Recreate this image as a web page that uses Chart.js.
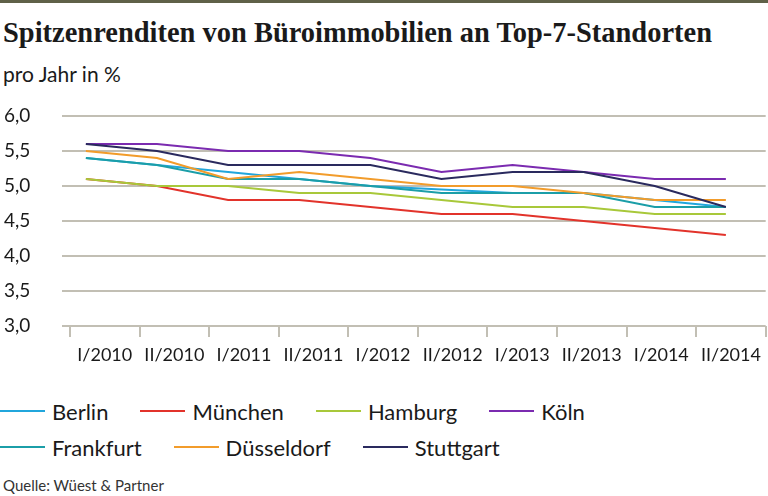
<!DOCTYPE html>
<html lang="de">
<head>
<meta charset="utf-8">
<title>Spitzenrenditen von Büroimmobilien an Top-7-Standorten</title>
<script src="https://cdn.jsdelivr.net/npm/chart.js@4"></script>
<style>
    html, body { margin: 0; padding: 0; background: #fff; }
    #page { position: relative; width: 768px; height: 496px; overflow: hidden; font-family: Lato, "Open Sans", sans-serif; color: #1a1a1a; }
    #topline { position: absolute; left: 0; top: 0; width: 768px; height: 3px; background: #5f6148; }
    #title { position: absolute; left: 3px; top: 15px; font-family: "Liberation Serif", serif; font-weight: bold; font-size: 30px; white-space: nowrap; transform-origin: left top; }
    #subtitle { position: absolute; left: 3px; top: 61px; font-size: 21px; }
    #chart-wrap { position: absolute; left: 0; top: 96px; width: 768px; height: 280px; }
    #legend { position: absolute; left: 0; top: 393px; font-size: 22px; }
    .legend-row { display: flex; height: 36px; align-items: center; }
    .legend-item { display: flex; align-items: center; margin-right: 32px; }
    .legend-line { display: inline-block; width: 45px; height: 2px; margin-right: 7px; }
    #source { position: absolute; left: 3px; top: 476px; font-size: 15px; color: #333; }
</style>
</head>
<body>
<div id="page">
    <div id="topline"></div>
    <div id="title">Spitzenrenditen von Büroimmobilien an Top-7-Standorten</div>
    <div id="subtitle">pro Jahr in %</div>
    <div id="chart-wrap"><canvas id="line-chart"></canvas></div>
    <div id="legend"></div>
    <div id="source">Quelle: Wüest &amp; Partner</div>
</div>
<script>
// Halbjahre
const categories = ['I/2010', 'II/2010', 'I/2011', 'II/2011', 'I/2012', 'II/2012', 'I/2013', 'II/2013', 'I/2014', 'II/2014'];

// Spitzenrenditen in %
const berlin      = [5.4, 5.3, 5.2, 5.1, 5.0, 4.95, 4.9, 4.9, 4.8, 4.7];
const muenchen    = [5.1, 5.0, 4.8, 4.8, 4.7, 4.6, 4.6, 4.5, 4.4, 4.3];
const hamburg     = [5.1, 5.0, 5.0, 4.9, 4.9, 4.8, 4.7, 4.7, 4.6, 4.6];
const koeln       = [5.6, 5.6, 5.5, 5.5, 5.4, 5.2, 5.3, 5.2, 5.1, 5.1];
const frankfurt   = [5.4, 5.3, 5.1, 5.1, 5.0, 4.9, 4.9, 4.9, 4.7, 4.7];
const duesseldorf = [5.5, 5.4, 5.1, 5.2, 5.1, 5.0, 5.0, 4.9, 4.8, 4.8];
const stuttgart   = [5.6, 5.5, 5.3, 5.3, 5.3, 5.1, 5.2, 5.2, 5.0, 4.7];

const cityNames = ['Berlin', 'München', 'Hamburg', 'Köln', 'Frankfurt', 'Düsseldorf', 'Stuttgart'];
const citySeries = [berlin, muenchen, hamburg, koeln, frankfurt, duesseldorf, stuttgart];

// y axis ticks
const yMin = 3.0;
const yMax = 6.0;
const yStep = 0.5;

const cityColors = ['#21a6dc', '#e2332b', '#a8c83a', '#7b2bb0', '#1b9ea8', '#f29c2b', '#2a2a5e'];
const gridColor = '#c2bfb4';

// Squeeze the serif title to the condensed width of the original
function fitTitle() {
    const title = document.getElementById('title');
    const natural = title.getBoundingClientRect().width;
    title.style.transform = 'scaleX(' + (709 / natural) + ')';
}

// HTML legend, two rows like the original
function buildLegend() {
    const legend = document.getElementById('legend');
    const rows = [cityNames.slice(0, 4), cityNames.slice(4)];
    let idx = 0;
    rows.forEach(names => {
        const row = document.createElement('div');
        row.className = 'legend-row';
        names.forEach(name => {
            const item = document.createElement('div');
            item.className = 'legend-item';
            const line = document.createElement('span');
            line.className = 'legend-line';
            line.style.background = cityColors[idx];
            const label = document.createElement('span');
            label.textContent = name;
            item.appendChild(line);
            item.appendChild(label);
            row.appendChild(item);
            idx++;
        });
        legend.appendChild(row);
    });
}

function createLineChart() {
    const canvas = document.getElementById('line-chart');

    const datasets = citySeries.map((values, i) => ({
        label: cityNames[i],
        data: values.map((v, j) => ({ x: j, y: v })),
        borderColor: cityColors[i],
        backgroundColor: cityColors[i],
        borderWidth: 2,
        pointRadius: 0,
        tension: 0,
        xAxisID: 'x',
        // later cities are painted on top, as in the original
        order: citySeries.length - i
    }));

    new Chart(canvas, {
        type: 'line',
        data: { datasets: datasets },
        options: {
            responsive: true,
            maintainAspectRatio: false,
            animation: false,
            layout: { padding: { left: 4, right: 0, top: 20, bottom: 0 } },
            plugins: {
                legend: { display: false },
                tooltip: { enabled: false }
            },
            scales: {
                // data axis (hidden), points sit inside the category bands
                x: {
                    type: 'linear',
                    display: false,
                    min: -0.336,
                    max: 9.56
                },
                // label axis: tick marks between the half-years
                xLabels: {
                    type: 'linear',
                    position: 'bottom',
                    min: -0.115,
                    max: categories.length,
                    afterBuildTicks: scale => {
                        scale.ticks = categories.map((c, i) => ({ value: i + 0.5 }));
                    },
                    afterFit: scale => { scale.height = 50; },
                    border: { display: false },
                    grid: {
                        offset: true,
                        drawOnChartArea: false,
                        drawTicks: true,
                        tickLength: 11,
                        color: gridColor,
                        lineWidth: 2
                    },
                    ticks: {
                        autoSkip: false,
                        maxRotation: 0,
                        padding: 7,
                        color: '#1a1a1a',
                        font: { family: 'Lato', size: 18 },
                        callback: value => categories[Math.floor(value)]
                    }
                },
                y: {
                    min: yMin,
                    max: yMax,
                    afterFit: scale => { scale.width = 58; },
                    border: { display: false },
                    grid: {
                        color: gridColor,
                        lineWidth: 2,
                        drawTicks: false
                    },
                    ticks: {
                        stepSize: yStep,
                        crossAlign: 'far',
                        color: '#1a1a1a',
                        font: { family: 'Lato', size: 19 },
                        callback: value => value.toFixed(1).replace('.', ',')
                    }
                }
            }
        }
    });
}

document.addEventListener('DOMContentLoaded', function() {
    fitTitle();
    buildLegend();
    createLineChart();
});
</script>
</body>
</html>
